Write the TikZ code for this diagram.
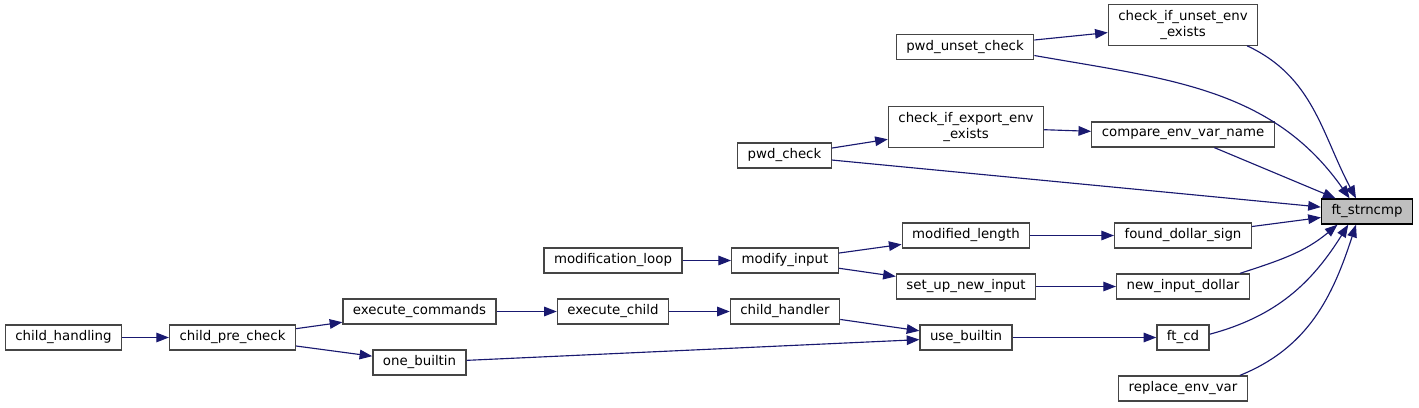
\documentclass[tikz,border=0pt]{standalone}
\usepackage{fontspec}
\setmainfont{DejaVu Sans}
\usetikzlibrary{arrows.meta}
\definecolor{edgeblue}{HTML}{191970}
\definecolor{boxgray}{HTML}{454545}
\tikzset{
  fn/.style={draw=boxgray, line width=0.95pt, fill=white, align=center,
    font=\fontsize{10}{11.5}\selectfont, inner xsep=7.5pt, inner ysep=4.4pt,
    minimum height=18.75pt},
  root/.style={fn, draw=black, fill=gray!50},
  call/.style={draw=edgeblue, line width=0.85pt, -{Triangle[length=9.5pt,width=7.2pt]}},
}

\begin{document}
\begin{tikzpicture}[x=0.75pt, y=-0.75pt]
\useasboundingbox (0,0) rectangle (1419,407);
\node[root] (strncmp) at (1367,211.5) {ft\_strncmp};
\foreach \n/\x/\y/\t in {
  unsetexists/1183/25/{check\_if\_unset\_env\\\_exists},
  pwdunset/965/47/{pwd\_unset\_check},
  exportexists/966/127/{check\_if\_export\_env\\\_exists},
  cmpname/1183/134.5/{compare\_env\_var\_name},
  pwdcheck/784.5/155.5/{pwd\_check},
  founddollar/1183/235.5/{found\_dollar\_sign},
  modlength/966/235.5/{modified\_length},
  modloop/613/260.5/{modification\_loop},
  modinput/785/260.5/{modify\_input},
  newdollar/1183/286.5/{new\_input\_dollar},
  setupinput/966/286.5/{set\_up\_new\_input},
  execcmds/419.5/311.5/{execute\_commands},
  execchild/613/311.5/{execute\_child},
  childhandler/785/311.5/{child\_handler},
  usebuiltin/966/337.5/{use\_builtin},
  ftcd/1183/337.5/{ft\_cd},
  childhandling/63.5/337.5/{child\_handling},
  prechk/232.5/337.5/{child\_pre\_check},
  onebuiltin/419.5/362.5/{one\_builtin},
  replaceenv/1183/388.5/{replace\_env\_var}} {
  \node[fn] (\n) at (\x,\y) {\t};
}
% straight calls
\foreach \a/\b in {pwdunset/unsetexists, pwdcheck/exportexists,
  exportexists/cmpname, cmpname/strncmp, pwdcheck/strncmp,
  founddollar/strncmp, modlength/founddollar, modinput/modlength,
  modloop/modinput, modinput/setupinput, setupinput/newdollar,
  execcmds/execchild, execchild/childhandler, childhandler/usebuiltin,
  prechk/execcmds, prechk/onebuiltin, childhandling/prechk,
  onebuiltin/usebuiltin, usebuiltin/ftcd} {
  \draw[call] (\a) -- (\b);
}
% bent calls into the root
\draw[call] (unsetexists.-18) to[out=-25, in=118] (strncmp.130);
\draw[call] (pwdunset.-7) to[out=-10, in=125] (strncmp.143);
\draw[call] (newdollar.13) to[out=18, in=220] (strncmp.204);
\draw[call] (ftcd.7) to[out=15, in=238] (strncmp.215);
\draw[call] (replaceenv.13) to[out=22, in=252] (strncmp.230);
\end{tikzpicture}
\end{document}
